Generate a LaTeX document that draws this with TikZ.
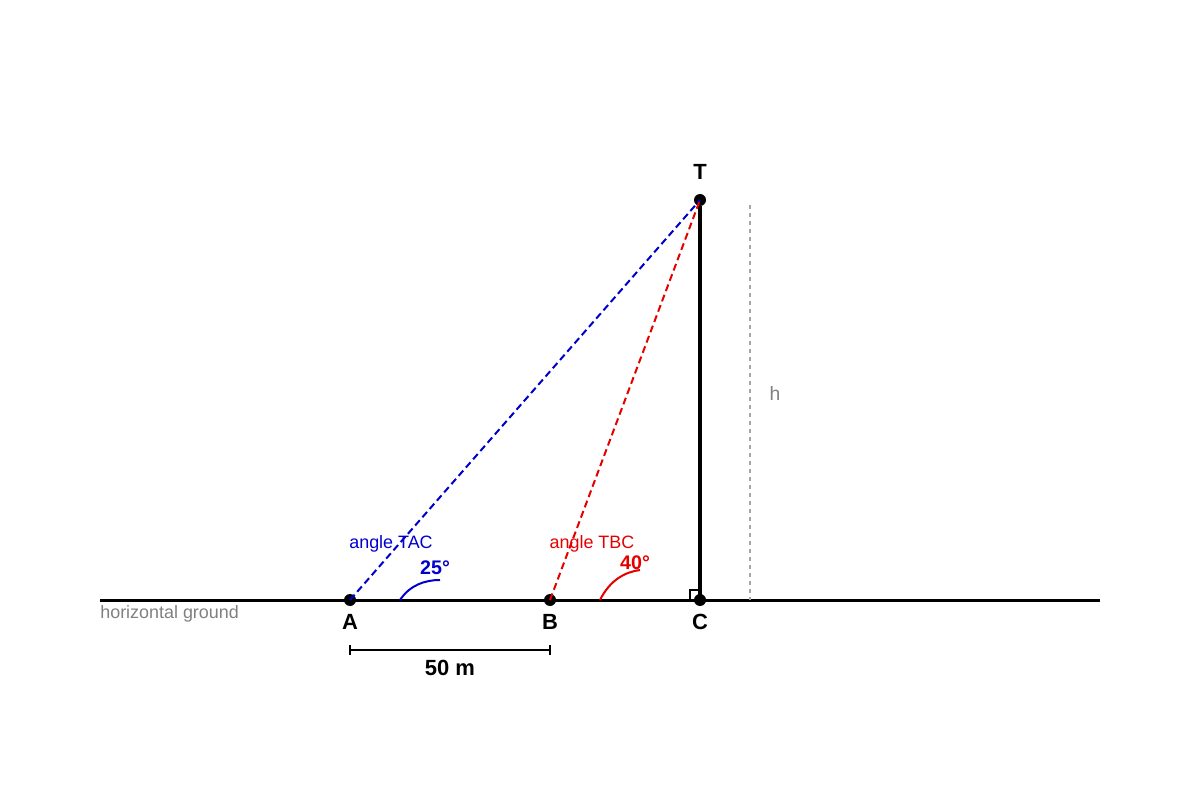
\documentclass[tikz,border=0pt]{standalone}
\usepackage{fontspec}
\setmainfont{Liberation Sans}
\tikzset{
  pt/.style={circle, fill=black, inner sep=0pt, minimum size=0.24cm},
  ptlabel/.style={font=\fontsize{12.5}{14}\selectfont\bfseries},
  sight/.style={dashed, dash pattern=on 0.14cm off 0.08cm, line width=0.04cm},
  anglabel/.style={font=\fontsize{10.2}{12}\selectfont},
  angval/.style={font=\fontsize{11.2}{13}\selectfont\bfseries}
}
\begin{document}
\begin{tikzpicture}[x=0.02cm, y=-0.02cm]
        \useasboundingbox (0, 0) rectangle (1200, 800);

        % ground
        \coordinate (g1) at (100, 600);
        \coordinate (g2) at (1100, 600);
        \draw[line width=0.06cm] (g1) -- (g2);
        \node[anchor=west, inner sep=0pt, text=gray, font=\fontsize{10.2}{12}\selectfont] (ground) at (100, 614) {horizontal ground};

        % tower
        \node[pt] (T) at (700, 200) {};
        \node[pt] (C) at (700, 600) {};
        \draw[line width=0.08cm] (T) -- (C.center);
        \draw[line width=0.03cm] (690, 600) -- (690, 590) -- (700, 590);

        % height
        \coordinate (h1) at (750, 205);
        \coordinate (h2) at (750, 600);
        \draw[gray!70, line width=0.04cm, dash pattern=on 0.08cm off 0.08cm] (h1) -- (h2);
        \node[text=gray, font=\fontsize{11}{13}\selectfont] (hlab) at (775, 393) {h};

        % observers
        \node[pt] (A) at (350, 600) {};
        \node[pt] (B) at (550, 600) {};
        \draw[sight, blue!80!black] (A.center) -- (T.center);
        \draw[sight, red!90!black] (B.center) -- (T.center);

        \node[ptlabel] at (700, 172) {T};
        \node[ptlabel] at (350, 622) {A};
        \node[ptlabel] at (550, 622) {B};
        \node[ptlabel] at (700, 622) {C};

        % angles
        \draw[blue!80!black, line width=0.04cm] (400, 600) .. controls (410, 585) and (425, 580) .. (440, 580);
        \node[anglabel, text=blue!80!black] (tac) at (391, 544) {angle TAC};
        \node[angval, text=blue!80!black] (a25) at (435, 568) {25°};

        \draw[red!90!black, line width=0.04cm] (600, 600) .. controls (610, 580) and (625, 572) .. (640, 570);
        \node[anglabel, text=red!90!black] (tbc) at (592, 544) {angle TBC};
        \node[angval, text=red!90!black] (a40) at (635, 563) {40°};

        % distance
        \coordinate (d1) at (350, 650);
        \coordinate (d2) at (550, 650);
        \draw[line width=0.04cm] (d1) -- (d2);
        \draw[line width=0.04cm] ([yshift=-0.1cm]d1) -- ([yshift=0.1cm]d1);
        \draw[line width=0.04cm] ([yshift=-0.1cm]d2) -- ([yshift=0.1cm]d2);
        \node[ptlabel] (dist) at (450, 668) {50 m};
\end{tikzpicture}
\end{document}
